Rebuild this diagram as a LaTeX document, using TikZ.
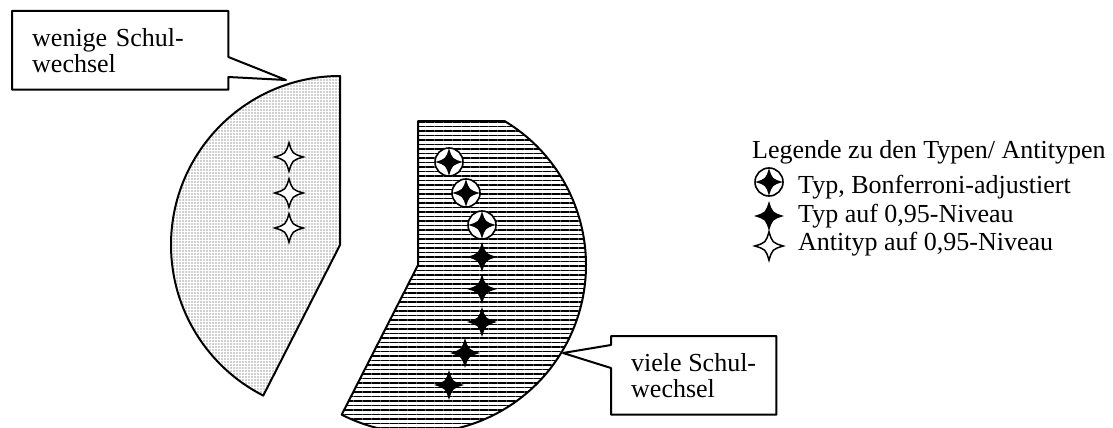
\documentclass[tikz,border=0pt]{standalone}
\usepackage{fontspec}
\setmainfont{Liberation Serif}
\usetikzlibrary{patterns.meta}

\tikzset{
  outline/.style={line width=2pt,line join=round},
  dotfill/.style={pattern={Dots[distance=3pt,radius=0.6pt]},pattern color=black!80},
  hatchfill/.style={pattern={Lines[angle=0,distance=4.5pt,line width=1.1pt]},pattern color=black},
  calloutbox/.style={anchor=north west,inner xsep=20pt,inner ysep=17pt,align=left,font=\fontsize{26}{26}\selectfont},
  legtext/.style={anchor=base west,inner sep=0pt,font=\fontsize{26}{26}\selectfont},
  fourstar/.pic={\path[pic actions] (0,-15) .. controls (3.5,-3.5) .. (15,0) .. controls (3.5,3.5) .. (0,15) .. controls (-3.5,3.5) .. (-15,0) .. controls (-3.5,-3.5) .. (0,-15) -- cycle;},
  blackstar/.style={fill=black},
  whitestar/.style={fill=white,draw=black,line width=1.5pt},
  ring/.style={fill=white,draw=black,line width=1.6pt},
}

\begin{document}
\begin{tikzpicture}[x=1pt,y=-1pt]
\path[use as bounding box] (0,0) rectangle (1113,428);
\clip (0,0) rectangle (1113,428);
% pie pieces
\draw[outline,dotfill] (340,245) -- (340,76) arc[start angle=270,end angle=117,radius=169] -- cycle;
\draw[outline,hatchfill] (418,265) -- (418,121) -- (504.5,121) arc[start angle=-59,end angle=117,radius=168] -- cycle;
% antitypes
\pic[whitestar,scale=0.95] at (289,157) {fourstar};
\pic[whitestar,scale=0.95] at (289,193) {fourstar};
\pic[whitestar,scale=0.95] at (289,228) {fourstar};
% types, Bonferroni
\draw[ring] (449,162) circle[radius=14];
\pic[blackstar,scale=0.92] at (449,162) {fourstar};
\draw[ring] (466,193) circle[radius=14];
\pic[blackstar,scale=0.92] at (466,193) {fourstar};
\draw[ring] (482,225) circle[radius=14];
\pic[blackstar,scale=0.92] at (482,225) {fourstar};
% types
\pic[blackstar] at (482,257) {fourstar};
\pic[blackstar] at (482,289) {fourstar};
\pic[blackstar] at (482,322) {fourstar};
\pic[blackstar] at (465,353) {fourstar};
\pic[blackstar] at (449,385) {fourstar};
% callouts
\coordinate (tipwenige) at (286,80);
\node[calloutbox,text width=176pt] (wenige) at (12,11) {wenige Schul-\\wechsel};
\draw[outline] (wenige.north west) -- (wenige.north east) -- ([yshift=-46pt]wenige.north east) -- (tipwenige) -- ([yshift=-66pt]wenige.north east) -- (wenige.south east) -- (wenige.south west) -- cycle;
\coordinate (tipviele) at (563,353);
\node[calloutbox] (viele) at (611,336) {viele Schul-\\wechsel};
\draw[outline] (viele.north east) -- (viele.north west) -- ([yshift=-9pt]viele.north west) -- (tipviele) -- ([yshift=-32pt]viele.north west) -- (viele.south west) -- (viele.south east) -- cycle;
% legend
\node[legtext] (legtitle) at (752,158) {Legende zu den Typen/ Antitypen};
\node[legtext] (legbonf) at (798,193) {Typ, Bonferroni-adjustiert};
\node[legtext] (legtyp) at (798,222) {Typ auf 0,95-Niveau};
\node[legtext] (legantityp) at (798,250) {Antityp auf 0,95-Niveau};
\draw[ring] (769,182) circle[radius=14];
\pic[blackstar,scale=0.92] at (769,182) {fourstar};
\pic[blackstar] at (769,216) {fourstar};
\pic[whitestar,scale=0.95] at (769,246) {fourstar};
\end{tikzpicture}
\end{document}
